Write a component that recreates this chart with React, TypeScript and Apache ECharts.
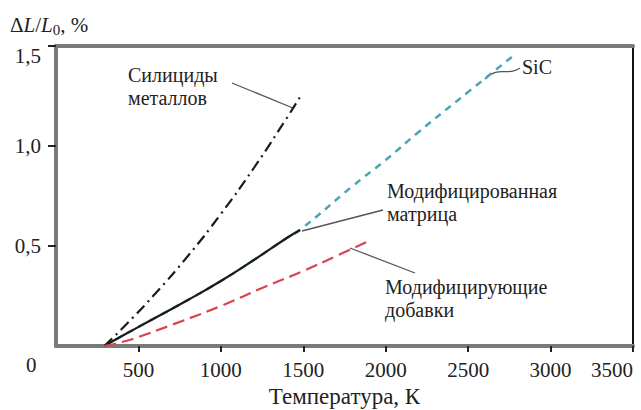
import React, { useEffect, useRef } from "react";
import * as echarts from "echarts";

// Temperature, K  /  relative elongation, %
const silicidesT = [293, 400, 600, 800, 1000, 1200, 1400, 1480];
const silicidesV = [0, 0.086, 0.26, 0.45, 0.66, 0.89, 1.14, 1.245];

const matrixT = [293, 400, 600, 800, 1000, 1200, 1400, 1480];
const matrixV = [0, 0.05, 0.14, 0.23, 0.325, 0.43, 0.54, 0.58];

const sicT = [293, 400, 600, 800, 1000, 1200, 1400, 1480, 1800, 2000, 2200, 2500, 2765];
const sicV = [0, 0.05, 0.14, 0.23, 0.325, 0.43, 0.54, 0.58, 0.8, 0.93, 1.07, 1.27, 1.445];

const additivesT = [293, 400, 500, 700, 1000, 1250, 1500, 1700, 1886];
const additivesV = [0, 0.02, 0.045, 0.105, 0.2, 0.29, 0.375, 0.45, 0.52];

const xTicks = [500, 1000, 1500, 2000, 2500, 3000, 3500];
const yTickLabels: Record<string, string> = { "0.5": "0,5", "1": "1,0", "1.5": "1,5" };

const FONT = "Liberation Serif";
const TXT = "#222";

const zip = (a: number[], b: number[]) => a.map((v, i) => [v, b[i]]);

export default function App() {
  const ref = useRef<HTMLDivElement>(null);
  useEffect(() => {
    const chart = echarts.init(ref.current!, null, { renderer: "svg" });
    const frame = (color: string, width: number) => ({
      show: true,
      onZero: false,
      lineStyle: { color, width },
    });
    chart.setOption({
      animation: false,
      grid: { left: 56, right: 8, top: 46, bottom: 64, containLabel: false, outerBoundsMode: "none" },
      xAxis: [
        {
          type: "value",
          min: 0,
          max: 3500,
          interval: 500,
          name: "Температура, К",
          nameLocation: "middle",
          nameGap: 39,
          nameTextStyle: { fontFamily: FONT, fontSize: 23, color: TXT },
          axisLine: frame("#7a7a7a", 4),
          axisTick: { show: true, inside: false, length: 6, lineStyle: { color: "#222", width: 2 } },
          axisLabel: {
            fontFamily: FONT,
            fontSize: 21,
            color: TXT,
            margin: 13,
            showMinLabel: false,
            alignMaxLabel: "right",
            formatter: (v: number) => (xTicks.includes(v) ? String(v) : ""),
          },
          splitLine: { show: false },
        },
        {
          type: "value",
          position: "top",
          min: 0,
          max: 3500,
          axisLine: frame("#7a7a7a", 4),
          axisTick: { show: false },
          axisLabel: { show: false },
          splitLine: { show: false },
        },
      ],
      yAxis: [
        {
          type: "value",
          min: 0,
          max: 1.5,
          interval: 0.5,
          axisLine: frame("#7a7a7a", 4),
          axisTick: { show: true, inside: false, length: 8, lineStyle: { color: "#222", width: 2 } },
          axisLabel: {
            fontFamily: FONT,
            fontSize: 21,
            color: TXT,
            margin: 15,
            showMinLabel: false,
            lineHeight: 20,
            formatter: (v: number) => {
              const s = yTickLabels[String(v)] || "";
              return v === 1.5 ? "\n" + s : s;
            },
          },
          splitLine: { show: false },
        },
        {
          type: "value",
          position: "right",
          min: 0,
          max: 1.5,
          axisLine: frame("#111", 2),
          axisTick: { show: false },
          axisLabel: { show: false },
          splitLine: { show: false },
        },
      ],
      series: [
        {
          type: "line",
          name: "SiC",
          data: zip(sicT, sicV),
          showSymbol: false,
          smooth: true,
          lineStyle: { color: "#4ea3b4", width: 2.5, type: [7, 6] },
          z: 2,
        },
        {
          type: "line",
          name: "Модифицированная матрица",
          data: zip(matrixT, matrixV),
          showSymbol: false,
          smooth: true,
          lineStyle: { color: "#1a1a1a", width: 2.2, type: "solid" },
          z: 3,
        },
        {
          type: "line",
          name: "Силициды металлов",
          data: zip(silicidesT, silicidesV),
          showSymbol: false,
          smooth: true,
          lineStyle: { color: "#1a1a1a", width: 2.2, type: [11, 5, 2, 5] },
          z: 3,
        },
        {
          type: "line",
          name: "Модифицирующие добавки",
          data: zip(additivesT, additivesV),
          showSymbol: false,
          smooth: true,
          lineStyle: { color: "#d9434f", width: 2.2, type: [12, 6] },
          z: 3,
        },
      ],
    });

    const px = (x: number, y: number) =>
      chart.convertToPixel({ xAxisIndex: 0, yAxisIndex: 0 }, [x, y]) as number[];
    const aSil = px(1437, 1.19);
    const aMat = px(1480, 0.58);
    const aSic = px(2602, 1.335);
    const aAdd = px(1783, 0.49);

    const txt = (text: string, x: number, y: number, size = 20) => ({
      type: "text",
      x,
      y,
      style: { text, fontFamily: FONT, fontSize: size, fill: TXT, verticalAlign: "middle", align: "left" },
    });
    const ln = (x1: number, y1: number, x2: number, y2: number) => ({
      type: "line",
      shape: { x1, y1, x2, y2 },
      style: { stroke: "#555", lineWidth: 1.3 },
    });

    chart.setOption({
      graphic: [
        {
          type: "text",
          x: 10,
          y: 25,
          style: {
            text: "{n|Δ}{i|L}{n|/}{i|L}{s|0}{n|, %}",
            verticalAlign: "middle",
            rich: {
              n: { fontFamily: FONT, fontSize: 21, fill: TXT },
              i: { fontFamily: FONT, fontSize: 21, fontStyle: "italic", fill: TXT },
              s: { fontFamily: FONT, fontSize: 15, fill: TXT, padding: [9, 0, 0, 0] },
            },
          },
        },
        txt("0", 26, 365, 21),
        txt("Силициды", 128, 75),
        txt("металлов", 128, 98),
        ln(232, 83, aSil[0], aSil[1]),
        txt("SiC", 522, 67),
        {
          type: "bezierCurve",
          shape: { x1: aSic[0], y1: aSic[1], cpx1: aSic[0] + 14, cpy1: aSic[1] - 14, cpx2: aSic[0] + 22, cpy2: aSic[1] - 2, x2: 520, y2: 68 },
          style: { stroke: "#555", lineWidth: 1.3, fill: null },
        },
        txt("Модифицированная", 387, 191),
        txt("матрица", 387, 214),
        ln(aMat[0] + 2, aMat[1] + 1, 383, 210),
        txt("Модифицирующие", 385, 287),
        txt("добавки", 385, 310),
        ln(aAdd[0], aAdd[1], 415, 273),
      ],
    });
    return () => chart.dispose();
  }, []);
  return <div ref={ref} style={{ position: "absolute", left: 0, top: 0, width: 641, height: 410 }} />;
}
